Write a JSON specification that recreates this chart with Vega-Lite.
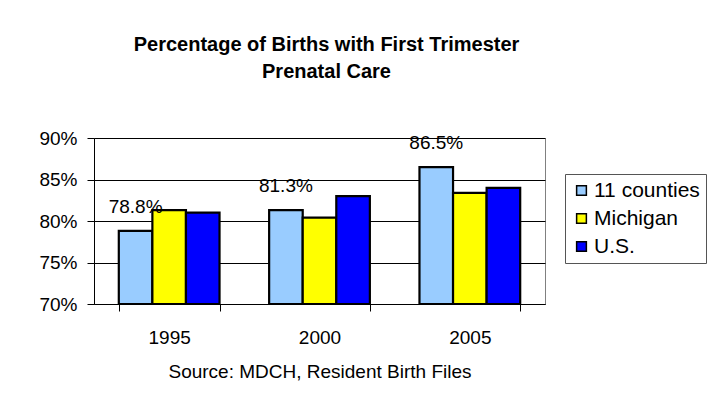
{
  "$schema": "https://vega.github.io/schema/vega-lite/v6.json",
  "autosize": {"type": "none"},
  "width": 451,
  "height": 166,
  "padding": {"left": 94, "top": 138, "right": 162, "bottom": 105},
  "background": "white",
  "title": {
    "text": ["Percentage of Births with First Trimester", "Prenatal Care"],
    "font": "Liberation Sans",
    "fontSize": 20,
    "fontWeight": "bold",
    "color": "black",
    "anchor": "middle",
    "dx": 7,
    "offset": 47,
    "lineHeight": 27
  },
  "data": {
    "values": [
      {"year": "1995", "series": "11 counties", "value": 78.8},
      {"year": "1995", "series": "Michigan", "value": 81.3},
      {"year": "1995", "series": "U.S.", "value": 81.0},
      {"year": "2000", "series": "11 counties", "value": 81.3},
      {"year": "2000", "series": "Michigan", "value": 80.4},
      {"year": "2000", "series": "U.S.", "value": 83.0},
      {"year": "2005", "series": "11 counties", "value": 86.5},
      {"year": "2005", "series": "Michigan", "value": 83.4},
      {"year": "2005", "series": "U.S.", "value": 84.0}
    ]
  },
  "encoding": {
    "x": {
      "field": "year",
      "type": "nominal",
      "scale": {"paddingInner": 0.33, "paddingOuter": 0.165},
      "axis": {
        "title": "Source: MDCH, Resident Birth Files",
        "titleFont": "Liberation Sans",
        "titleFontSize": 19,
        "titleFontWeight": "normal",
        "titleColor": "black",
        "titlePadding": 15,
        "labelAngle": 0,
        "labelFont": "Liberation Sans",
        "labelFontSize": 19,
        "labelColor": "black",
        "labelPadding": 17,
        "domainColor": "black",
        "domainWidth": 1,
        "tickColor": "black",
        "tickSize": 7,
        "tickBand": "extent",
        "grid": false
      }
    },
    "y": {
      "field": "value",
      "type": "quantitative",
      "scale": {"domain": [70, 90], "nice": false, "zero": false},
      "axis": {
        "title": null,
        "values": [70, 75, 80, 85, 90],
        "labelExpr": "datum.value + '%'",
        "labelFont": "Liberation Sans",
        "labelFontSize": 19,
        "labelColor": "black",
        "labelPadding": 10,
        "domainColor": "black",
        "domainWidth": 1,
        "tickColor": "black",
        "tickSize": 7,
        "gridColor": "black",
        "gridWidth": 1
      }
    }
  },
  "layer": [
    {
      "mark": {"type": "bar", "stroke": "black", "strokeWidth": 2.2},
      "encoding": {
        "y2": {"datum": 70},
        "xOffset": {"field": "series", "type": "nominal", "sort": ["11 counties", "Michigan", "U.S."]},
        "color": {
          "field": "series",
          "type": "nominal",
          "sort": ["11 counties", "Michigan", "U.S."],
          "scale": {"domain": ["11 counties", "Michigan", "U.S."], "range": ["#99CCFF", "#FFFF00", "#0000FF"]},
          "legend": {
            "title": null,
            "orient": "none",
            "legendX": 471,
            "legendY": 36,
            "symbolType": "square",
            "symbolSize": 95,
            "symbolStrokeColor": "black",
            "symbolStrokeWidth": 1.5,
            "symbolOpacity": 1,
            "labelFont": "Liberation Sans",
            "labelFontSize": 21,
            "labelColor": "black",
            "labelOffset": 2,
            "rowPadding": 6,
            "strokeColor": "#555555",
            "padding": 6,
            "fillColor": "white"
          }
        }
      }
    },
    {
      "transform": [
        {"filter": "datum.series === '11 counties'"},
        {"calculate": "format(datum.value, '.1f') + '%'", "as": "label"}
      ],
      "mark": {"type": "text", "baseline": "alphabetic", "dy": -18, "font": "Liberation Sans", "fontSize": 19, "color": "black"},
      "encoding": {
        "xOffset": {"field": "series", "type": "nominal", "sort": ["11 counties", "Michigan", "U.S."], "scale": {"domain": ["11 counties", "Michigan", "U.S."]}},
        "text": {"field": "label", "type": "nominal"}
      }
    }
  ],
  "config": {
    "view": {"stroke": "#808080", "strokeWidth": 1}
  }
}
